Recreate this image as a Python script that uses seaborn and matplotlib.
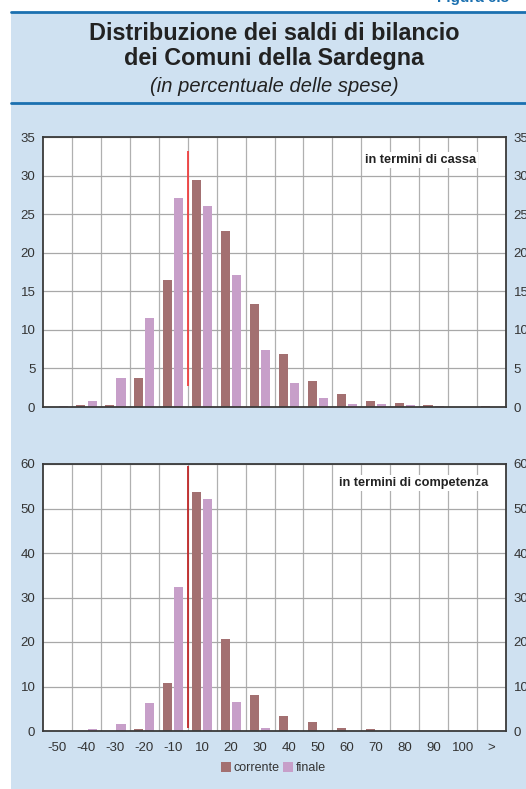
import pandas as pd
import seaborn as sns
import matplotlib.pyplot as plt
from matplotlib.patches import Rectangle, Patch
from matplotlib.lines import Line2D

# classi di saldo (in % delle spese)
classi = ['-50', '-40', '-30', '-20', '-10', '10', '20', '30', '40', '50',
          '60', '70', '80', '90', '100', '>']

# in termini di cassa
cassa_corrente = [0.0, 0.2, 0.2, 3.7, 16.5, 29.4, 22.8, 13.4, 6.9, 3.4,
                  1.7, 0.8, 0.55, 0.3, 0.0, 0.17]
cassa_finale = [0.17, 0.8, 3.8, 11.6, 27.1, 26.0, 17.1, 7.4, 3.15, 1.2,
                0.45, 0.45, 0.3, 0.17, 0.0, 0.0]

# in termini di competenza
comp_corrente = [0.1, 0.0, 0.0, 0.45, 10.8, 53.8, 20.7, 8.1, 3.4, 2.0,
                 0.7, 0.45, 0.05, 0.0, 0.0, 0.0]
comp_finale = [0.0, 0.45, 1.6, 6.3, 32.4, 52.2, 6.5, 0.7, 0.2, 0.1,
               0.1, 0.0, 0.0, 0.0, 0.0, 0.0]

serie = ['corrente', 'finale']
colori = {'corrente': '#a37071', 'finale': '#c79fc9'}
bg = '#cfe1f1'
blu = '#1b70b0'

W, H = 526, 789


def make_df(corr, fin):
	rows = []
	for c, a, b in zip(classi, corr, fin):
		rows.append([c, 'corrente', a])
		rows.append([c, 'finale', b])
	return pd.DataFrame(rows, columns=['classe', 'tipo', 'valore'])


def draw_panel(ax, df, ymax, step, label, lab_xy, zero_line, zero_col):
	sns.barplot(data=df, x='classe', y='valore', hue='tipo', order=classi,
	            hue_order=serie, palette=colori, width=0.78, gap=0.2,
	            saturation=1, legend=False, linewidth=0, ax=ax)
	ax.set_facecolor('white')
	ax.set_xlim(-0.5, len(classi) - 0.5)
	ax.set_ylim(0, ymax)
	ax.set_yticks(range(0, ymax + 1, step))
	ax.set_xticks([i + 0.5 for i in range(len(classi) - 1)], minor=True)
	ax.grid(axis='y', which='major', color='#a8a8a8', lw=0.9)
	ax.grid(axis='x', which='minor', color='#b0b0b0', lw=0.9)
	ax.grid(axis='x', which='major', visible=False)
	ax.set_axisbelow(True)
	ax.vlines(4.5, zero_line[0], zero_line[1], color=zero_col, lw=1.3, zorder=3)
	for s in ax.spines.values():
		s.set_color('#3a3a3a')
		s.set_linewidth(1.3)
	ax.tick_params(axis='y', which='both', length=0, labelsize=9.5,
	               labelcolor='#333333', labelright=True, pad=5.5)
	ax.tick_params(axis='x', which='both', length=0, labelsize=9.5,
	               labelcolor='#333333', pad=8)
	ax.set_xlabel('')
	ax.set_ylabel('')
	ax.text(lab_xy[0], lab_xy[1], label, transform=ax.transAxes, ha='center',
	        va='center', fontsize=9.2, fontweight='bold', color='#222222',
	        bbox=dict(facecolor='white', edgecolor='none', pad=1.5), zorder=5)


sns.set_theme(style='white')
plt.rcParams['font.family'] = ['Liberation Sans', 'DejaVu Sans']

fig = plt.figure(figsize=(W / 100, H / 100), dpi=100)
fig.patch.set_facecolor('white')

# sfondo e filetti
fig.patches.append(Rectangle((11 / W, 0), 1 - 11 / W, 1 - 12 / H,
                             transform=fig.transFigure, facecolor=bg,
                             edgecolor='none', zorder=-10))
for yy in (12, 103):
	fig.lines.append(Line2D([11 / W, 1], [1 - yy / H, 1 - yy / H],
	                        transform=fig.transFigure, color=blu, lw=2,
	                        zorder=-5))

fig.text(437 / W, 1 - 2 / H, 'Figura 6.3', color=blu, fontsize=11,
         fontweight='bold', ha='left', va='baseline')
fig.text(274 / W, 1 - 46 / H,
         'Distribuzione dei saldi di bilancio\ndei Comuni della Sardegna',
         ha='center', va='center', fontsize=16.8, fontweight='bold',
         color='#222222', linespacing=1.15)
fig.text(274 / W, 1 - 87 / H, '(in percentuale delle spese)', ha='center',
         va='center', fontsize=14.5, style='italic', color='#222222')

ax1 = fig.add_axes([43 / W, 1 - 407 / H, 463 / W, 270 / H])
ax2 = fig.add_axes([43 / W, 1 - 731 / H, 463 / W, 267 / H])

draw_panel(ax1, make_df(cassa_corrente, cassa_finale), 35, 5,
           'in termini di cassa', (0.816, 0.915), (2.7, 33.2), '#f04040')
ax1.tick_params(axis='x', labelbottom=False)
draw_panel(ax2, make_df(comp_corrente, comp_finale), 60, 10,
           'in termini di competenza', (0.801, 0.929), (0.7, 59.6), '#c02828')

handles = [Patch(facecolor=colori[s], edgecolor='none', label=s) for s in serie]
fig.legend(handles=handles, loc='center', bbox_to_anchor=(273 / W, 1 - 768 / H),
           ncol=2, frameon=False, fontsize=9, handlelength=0.8,
           handleheight=0.8, handletextpad=0.2, columnspacing=0.3,
           labelcolor='#333333')

fig.savefig('out.png', dpi=100)
